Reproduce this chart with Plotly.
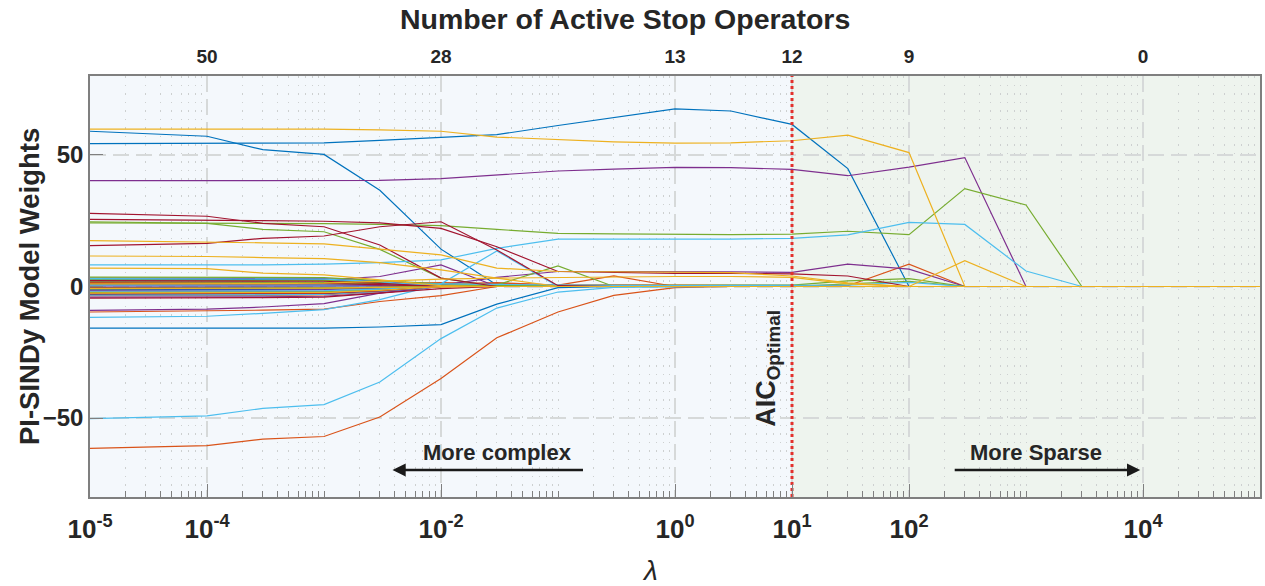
import plotly.graph_objects as go

# Regularisation strengths along the sweep
lam = [1e-5, 1e-4, 3e-4, 1e-3, 3e-3, 1e-2, 3e-2, 1e-1, 3e-1, 1, 3, 10,
       30, 100, 300, 1e3, 3e3, 1e4, 1e5]

# Weight paths (one list per stop operator), grouped by colour
b1 = [59.0, 57.1, 52.0, 50.2, 36.6, 14.2, 0.6, 0, 0, 0, 0, 0, 0, 0, 0, 0, 0, 0, 0]
b2 = [54.3, 54.4, 54.5, 54.6, 55.5, 56.8, 57.7, 61.2, 64.3, 67.5, 66.7, 61.6, 44.8, 0, 0, 0, 0, 0, 0]
b3 = [-15.8, -15.8, -15.8, -15.8, -15.4, -14.5, -6.7, -0.4, 0, 0, 0, 0, 0, 0, 0, 0, 0, 0, 0]
b4 = [2.8, 2.8, 2.7, 2.6, 1.5, 0, 0, 0, 0, 0, 0, 0, 0, 0, 0, 0, 0, 0, 0]
b5 = [-1.2, -1.2, -1.1, -1.0, -0.6, 0, 0, 0, 0, 0, 0, 0, 0, 0, 0, 0, 0, 0, 0]
b6 = [0.8, 0.8, 0.9, 1.2, 2.0, 0.8, 0, 0, 0, 0, 0, 0, 0, 0, 0, 0, 0, 0, 0]
b7 = [-3.0, -3.0, -2.9, -2.8, -1.8, 0, 0, 0, 0, 0, 0, 0, 0, 0, 0, 0, 0, 0, 0]
b8 = [-0.3, -0.3, -0.3, -0.3, -0.2, 0, 0, 0, 0, 0, 0, 0, 0, 0, 0, 0, 0, 0, 0]

r1 = [-61.5, -60.5, -58.0, -57.0, -49.6, -35.0, -19.5, -9.7, -3.4, -0.4, 0, 0, 0, 0, 0, 0, 0, 0, 0]
r2 = [-9.7, -9.4, -9.0, -8.6, -5.7, -3.5, 0, 0, 0, 0, 0, 0, 0, 0, 0, 0, 0, 0, 0]
r3 = [0.5, 0.5, 0.6, 0.8, 1.0, 1.5, 1.2, 0.5, 0.6, 0.5, 0.5, 0.4, 0.3, 8.5, 0, 0, 0, 0, 0]
r4 = [-2.0, -2.0, -1.9, -1.8, -1.0, 0.5, 1.5, 0.5, 4.0, 0, 0, 0, 0, 0, 0, 0, 0, 0, 0]
r5 = [-3.5, -3.5, -3.4, -3.2, -2.0, 0, 0, 0, 0, 0, 0, 0, 0, 0, 0, 0, 0, 0, 0]
r6 = [1.5, 1.5, 1.4, 1.3, 0.8, 0, 0, 0, 0, 0, 0, 0, 0, 0, 0, 0, 0, 0, 0]
r7 = [-0.5, -0.5, -0.5, -0.6, -0.3, 0, 0, 0, 0, 0, 0, 0, 0, 0, 0, 0, 0, 0, 0]

p1 = [40.2, 40.2, 40.2, 40.2, 40.3, 41.0, 42.5, 43.9, 44.6, 45.3, 45.2, 44.5, 42.1, 45.4, 49.0, 0, 0, 0, 0]
p2 = [-9.1, -8.6, -7.8, -6.5, -2.5, 0, 0, 0, 0, 0, 0, 0, 0, 0, 0, 0, 0, 0, 0]
p3 = [2.0, 2.0, 2.2, 2.5, 3.8, 8.2, 0, 0, 0, 0, 0, 0, 0, 0, 0, 0, 0, 0, 0]
p4 = [-1.5, -1.5, -1.4, -1.2, -0.5, 0.5, 3.5, 5.7, 5.7, 5.7, 5.6, 5.4, 8.5, 6.6, 0, 0, 0, 0, 0]
p5 = [3.2, 3.2, 3.1, 3.0, 2.0, 0, 0, 0, 0, 0, 0, 0, 0, 0, 0, 0, 0, 0, 0]
p6 = [-4.0, -4.0, -3.9, -3.7, -2.4, 0, 0, 0, 0, 0, 0, 0, 0, 0, 0, 0, 0, 0, 0]
p7 = [0.2, 0.2, 0.2, 0.3, 0.3, 0, 0, 0, 0, 0, 0, 0, 0, 0, 0, 0, 0, 0, 0]

g1 = [24.6, 24.0, 21.7, 20.8, 14.1, 3.2, 0, 0, 0, 0, 0, 0, 0, 0, 0, 0, 0, 0, 0]
g2 = [24.2, 24.1, 24.0, 23.9, 23.6, 23.1, 21.7, 20.2, 20.0, 19.7, 19.7, 19.9, 21.0, 19.7, 37.2, 31.0, 0, 0, 0]
g3 = [3.6, 3.6, 3.5, 3.4, 2.2, 1.0, 0.6, 7.8, 0, 0, 0, 0, 0, 0, 0, 0, 0, 0, 0]
g4 = [-0.8, -0.8, -0.7, -0.6, -0.3, 0.2, 0.3, 0.4, 0.5, 0.5, 0.5, 0.5, 2.1, 3.0, 0, 0, 0, 0, 0]
g5 = [1.8, 1.8, 1.7, 1.6, 1.0, 0.2, 0, 0, 0, 0, 0, 0, 1.0, 2.0, 0, 0, 0, 0, 0]
g6 = [-2.2, -2.2, -2.1, -2.0, -1.2, 0, 0, 0, 0, 0, 0, 0, 0, 0, 0, 0, 0, 0, 0]
g7 = [2.5, 2.5, 2.4, 2.3, 1.4, 0, 0, 0, 0, 0, 0, 0, 0, 0, 0, 0, 0, 0, 0]

c1 = [8.2, 8.2, 8.2, 8.5, 9.1, 10.1, 14.5, 18.0, 18.0, 17.9, 18.0, 18.3, 19.6, 24.4, 23.6, 5.9, 0, 0, 0]
c2 = [-50.2, -49.2, -46.3, -44.9, -36.3, -19.8, -8.2, -2.1, -0.3, 0, 0, 0, 0, 0, 0, 0, 0, 0, 0]
c3 = [-11.7, -11.3, -10.2, -8.8, -5.0, 1.0, 13.5, 0, 0, 0, 0, 0, 0, 0, 0, 0, 0, 0, 0]
c4 = [0.5, 0.5, 0.5, 0.6, 0.8, 1.0, 0.8, 0.5, 0.4, 0.3, 0.3, 0.3, 0.5, 1.6, 0, 0, 0, 0, 0]
c5 = [-1.8, -1.8, -1.7, -1.6, -1.0, 0, 0, 0, 0, 0, 0, 0, 0, 0, 0, 0, 0, 0, 0]
c6 = [3.0, 3.0, 2.9, 2.8, 1.8, 0, 0, 0, 0, 0, 0, 0, 0, 0, 0, 0, 0, 0, 0]
c7 = [-3.3, -3.3, -3.2, -3.0, -1.9, 0, 0, 0, 0, 0, 0, 0, 0, 0, 0, 0, 0, 0, 0]

d1 = [27.8, 26.7, 24.0, 22.7, 15.8, 3.2, 0, 0, 0, 0, 0, 0, 0, 0, 0, 0, 0, 0, 0]
d2 = [25.5, 25.3, 25.0, 24.8, 24.2, 22.1, 15.1, 5.7, 5.3, 5.0, 5.0, 4.8, 4.0, 0, 0, 0, 0, 0, 0]
d3 = [15.5, 16.4, 18.3, 19.2, 22.7, 24.6, 13.9, 0.3, 0, 0, 0, 0, 0, 0, 0, 0, 0, 0, 0]
d4 = [1.2, 1.2, 1.2, 1.1, 0.7, 0, 0, 0, 0, 0, 0, 0, 0, 0, 0, 0, 0, 0, 0]
d5 = [-2.8, -2.8, -2.7, -2.6, -1.7, 0, 0, 0, 0, 0, 0, 0, 0, 0, 0, 0, 0, 0, 0]
d6 = [2.2, 2.2, 2.1, 2.0, 1.2, 0, 0, 0, 0, 0, 0, 0, 0, 0, 0, 0, 0, 0, 0]
d7 = [-4.4, -4.4, -4.2, -4.0, -2.6, -0.8, 0, 0, 0, 0, 0, 0, 0, 0, 0, 0, 0, 0, 0]

y1 = [59.8, 59.8, 59.8, 59.8, 59.5, 59.0, 56.8, 55.8, 55.0, 54.5, 54.6, 55.4, 57.5, 50.9, 0, 0, 0, 0, 0]
y2 = [17.4, 17.0, 16.6, 16.2, 14.1, 12.0, 7.0, 5.7, 5.6, 5.5, 5.3, 4.0, 1.4, 0, 0, 0, 0, 0, 0]
y3 = [11.6, 11.4, 11.0, 10.6, 9.1, 6.3, 3.2, 0, 0, 0, 0, 0, 0, 0, 0, 0, 0, 0, 0]
y4 = [7.0, 6.8, 5.1, 4.4, 2.5, 0.3, 0, 0, 0, 0, 0, 0, 0, 0, 0, 0, 0, 0, 0]
y5 = [-0.8, -0.8, -0.7, -0.6, -0.3, 0, 0, 0, 0, 0, 0, 0, 0, 0, 9.8, 0, 0, 0, 0]
y6 = [1.0, 1.0, 1.1, 1.3, 2.0, 2.8, 3.2, 3.5, 3.6, 3.8, 3.8, 3.5, 1.0, 0, 0, 0, 0, 0, 0]
y7 = [-2.5, -2.5, -2.4, -2.3, -1.5, 0, 0, 0, 0, 0, 0, 0, 0, 0, 0, 0, 0, 0, 0]

# drawing order: the gold group goes last so it sits on top along zero
groups = [
    ("#0072BD", [b1, b2, b3, b4, b5, b6, b7, b8]),
    ("#D95319", [r1, r2, r3, r4, r5, r6, r7]),
    ("#7E2F8E", [p1, p2, p3, p4, p5, p6, p7]),
    ("#77AC30", [g1, g2, g3, g4, g5, g6, g7]),
    ("#4DBEEE", [c1, c2, c3, c4, c5, c6, c7]),
    ("#A2142F", [d1, d2, d3, d4, d5, d6, d7]),
    ("#EDB120", [y1, y2, y3, y4, y5, y6, y7]),
]

# Bottom axis labels and the top axis (active operator count)
bottom_ticks = [1e-5, 1e-4, 1e-2, 1, 10, 100, 1e4]
bottom_text = ["10<sup>-5</sup>", "10<sup>-4</sup>", "10<sup>-2</sup>", "10<sup>0</sup>",
               "10<sup>1</sup>", "10<sup>2</sup>", "10<sup>4</sup>"]
top_ticks = [1e-4, 1e-2, 1, 10, 100, 1e4]
active_counts = ["50", "28", "13", "12", "9", "0"]
aic_lambda = 10

minor_ticks = [m * 10.0 ** k for k in range(-5, 5) for m in range(2, 10)] + [1e-3, 1e-1, 1e3]

FONT = "Liberation Sans, Arial, sans-serif"
TXT = "#262626"
AX = "#7f7f7f"

fig = go.Figure()

for color, paths in groups:
    for w in paths:
        fig.add_trace(go.Scatter(x=lam, y=w, mode="lines",
                                 line=dict(color=color, width=1.2),
                                 showlegend=False, hoverinfo="skip"))

# optimal-AIC marker
fig.add_trace(go.Scatter(x=[aic_lambda, aic_lambda], y=[-80, 80], mode="lines",
                         line=dict(color="#E3302B", width=3, dash="dot"),
                         showlegend=False, hoverinfo="skip"))

# carrier for the top axis
fig.add_trace(go.Scatter(x=[lam[0], lam[-1]], y=[0, 0], xaxis="x2", mode="lines",
                         line=dict(width=0), opacity=0, showlegend=False, hoverinfo="skip"))

PL, PR, PT, PB = 90, 1262, 76, 497


def fx(px):
    return (px - PL) / (PR - PL)


def fy(py):
    return (PB - py) / (PB - PT)


split = (1 - (-5)) / 10.0
shapes = [
    dict(type="rect", xref="x domain", yref="y domain", x0=0, x1=split, y0=0, y1=1,
         fillcolor="#F4F8FC", line_width=0, layer="below"),
    dict(type="rect", xref="x domain", yref="y domain", x0=split, x1=1, y0=0, y1=1,
         fillcolor="#EEF4EE", line_width=0, layer="below"),
]


def label(text, px, py, size, angle=0):
    return dict(text=text, x=fx(px), y=fy(py), xref="paper", yref="paper",
                xanchor="center", yanchor="middle", textangle=angle, showarrow=False,
                font=dict(family=FONT, size=size, color=TXT))


annotations = [
    label("<b>Number of Active Stop Operators</b>", 626, 19, 28.5),
    label("<b>PI-SINDy Model Weights</b>", 29, 287, 27.5, -90),
    label("<i>λ</i>", 651, 570, 28),
    label("<b>AIC<sub>Optimal</sub></b>", 769, 368, 27, -90),
    label("<b>More complex</b>", 498, 452, 22),
    label("<b>More Sparse</b>", 1038, 452, 22),
    dict(text="", x=fx(393), y=fy(470), ax=585 - 393, ay=0, xref="paper", yref="paper",
         showarrow=True, arrowhead=2, arrowsize=1.1, arrowwidth=2.4, arrowcolor="#1a1a1a"),
    dict(text="", x=fx(1142), y=fy(470), ax=955 - 1142, ay=0, xref="paper", yref="paper",
         showarrow=True, arrowhead=2, arrowsize=1.1, arrowwidth=2.4, arrowcolor="#1a1a1a"),
]

fig.update_layout(
    width=1265, height=586,
    margin=dict(l=PL, r=1265 - PR, t=PT, b=586 - PB),
    paper_bgcolor="white", plot_bgcolor="white",
    font=dict(family=FONT, color=TXT),
    shapes=shapes, annotations=annotations,
    xaxis=dict(type="log", range=[-5, 5], tickmode="array", tickvals=bottom_ticks,
               ticktext=bottom_text, ticks="inside", ticklen=13, tickwidth=1.2, tickcolor=AX,
               showline=True, linecolor=AX, linewidth=1.5, mirror=True,
               showgrid=True, gridcolor="#d6d9d9", gridwidth=1.5, griddash="16px,7px",
               tickfont=dict(family=FONT, size=26, color=TXT, weight="bold"),
               ticklabelstandoff=8,
               minor=dict(tickvals=minor_ticks, ticks="inside", ticklen=6, tickcolor=AX,
                          showgrid=True, gridcolor="#cdd0d0", gridwidth=1, griddash="1.5px,7px"),
               zeroline=False),
    xaxis2=dict(type="log", range=[-5, 5], overlaying="x", side="top", anchor="y",
                tickmode="array", tickvals=top_ticks, ticktext=active_counts,
                ticks="", showline=False, showgrid=False, zeroline=False,
                tickfont=dict(family=FONT, size=19, color=TXT, weight="bold"),
                ticklabelstandoff=8),
    yaxis=dict(range=[-80, 80], tickmode="array", tickvals=[-50, 0, 50],
               ticks="inside", ticklen=13, tickwidth=1.2, tickcolor=AX,
               showline=True, linecolor=AX, linewidth=1.5, mirror=True,
               showgrid=True, gridcolor="#d6d9d9", gridwidth=1.5, griddash="16px,7px",
               zeroline=False,
               tickfont=dict(family=FONT, size=24, color=TXT, weight="bold")),
)

fig.write_html("out.html")
